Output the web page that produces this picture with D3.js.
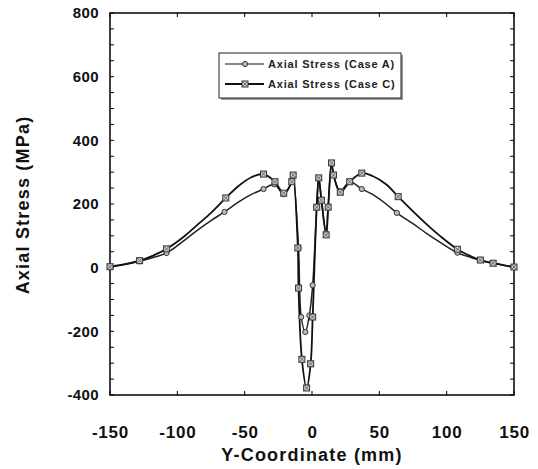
<!DOCTYPE html>
<html><head><meta charset="utf-8">
<script src="https://cdn.jsdelivr.net/npm/d3@7"></script>
<style>body{margin:0;background:#fff}svg{display:block;font-family:"Liberation Sans",Arial,sans-serif}</style>
</head><body><svg id="c" width="538" height="469"></svg>
<script>
const xTicks = [-150,-100,-50,0,50,100,150];
const yTicks = [-400,-200,0,200,400,600,800];
const seriesNames = ["Axial Stress (Case A)","Axial Stress (Case C)"];
// Case A: x (mm), stress (MPa), marker flag
const xA = [-150,-140,-128,-118,-108,-95,-85,-75,-65,-55,-45,-36,-28,-21,-15,-14,-10,-8,-5,-2,0.5,3.5,5,7,10.5,12,14.5,16,21,28,37,45,55,63,75,85,95,108,118,125,134.5,150];
const yA = [3,9,20,32,46,85,118,148,175,205,230,247,262,231,270,291,62,-155,-202,-150,-55,190,282,212,108,190,329,291,240,270,247,230,200,172,138,108,80,47,32,24,14,2];
const mA = [1,0,1,0,1,0,0,0,1,0,0,1,1,1,1,1,1,1,1,1,1,1,1,1,1,1,1,1,1,1,1,0,0,1,0,0,0,1,0,1,1,1];
// Case C
const xC = [-150,-140,-128,-118,-108,-95,-85,-75,-64,-55,-45,-36,-27.5,-21,-15,-14,-10.5,-10,-7.5,-4,-1,0.5,3.5,5,7,10.5,12,14.5,16,21,28,37,45,55,64,75,85,95,108,118,125,134.5,150];
const yC = [3,10,22,38,59,98,135,172,219,255,284,294,270,234,270,291,62,-64,-288,-378,-302,-155,190,282,212,103,190,329,291,237,270,297,288,262,223,177,137,100,58,36,24,14,2];
const mC = [1,0,1,0,1,0,0,0,1,0,0,1,1,1,1,1,1,1,1,1,1,1,1,1,1,1,1,1,1,1,1,1,0,0,1,0,0,0,1,0,1,1,1];

const svg = d3.select("#c");
const L=110,R=514,T=13,B=395;
const x = d3.scaleLinear().domain([-150,150]).range([L,R]);
const y = d3.scaleLinear().domain([-400,800]).range([B,T]);

svg.append("rect").attr("x",L).attr("y",T).attr("width",R-L).attr("height",B-T)
  .attr("fill","none").attr("stroke","#000").attr("stroke-width",1.5);

const yMinor = d3.range(-400,801,50);
const xMinor = d3.range(-150,151,50);
yMinor.forEach(v=>{
  svg.append("line").attr("x1",L).attr("x2",L+4).attr("y1",y(v)).attr("y2",y(v)).attr("stroke","#000");
  svg.append("line").attr("x1",R).attr("x2",R-4).attr("y1",y(v)).attr("y2",y(v)).attr("stroke","#000");
});
xMinor.forEach(v=>{
  svg.append("line").attr("y1",B).attr("y2",B-4).attr("x1",x(v)).attr("x2",x(v)).attr("stroke","#000");
  svg.append("line").attr("y1",T).attr("y2",T+4).attr("x1",x(v)).attr("x2",x(v)).attr("stroke","#000");
});

const fmt = d=>String(d);
const xAxis = d3.axisBottom(x).tickValues(xTicks).tickSize(0).tickPadding(0).tickFormat(fmt);
const gx = svg.append("g").attr("transform",`translate(0,${B+31})`).call(xAxis);
gx.select(".domain").remove();
gx.selectAll("text").attr("font-size",17).attr("font-weight","bold").attr("fill","#111").attr("letter-spacing",0.8).attr("font-family","'Liberation Sans',Arial,sans-serif");

const yAxis = d3.axisLeft(y).tickValues(yTicks).tickSize(0).tickPadding(0).tickFormat(fmt);
const gy = svg.append("g").attr("transform",`translate(${L-11},0)`).call(yAxis);
gy.select(".domain").remove();
gy.selectAll("text").attr("font-size",15).attr("font-weight","bold").attr("fill","#111").attr("letter-spacing",0.4).attr("font-family","'Liberation Sans',Arial,sans-serif");

svg.append("text").attr("x",(L+R)/2).attr("y",461).attr("text-anchor","middle")
  .attr("font-size",18).attr("font-weight","bold").attr("fill","#111").attr("letter-spacing",1.2).text("Y-Coordinate (mm)");
svg.append("text").attr("transform",`translate(29,205) rotate(-90)`).attr("text-anchor","middle")
  .attr("font-size",18).attr("font-weight","bold").attr("fill","#111").attr("letter-spacing",1.2).text("Axial Stress (MPa)");

const line = d3.line().x(d=>x(d[0])).y(d=>y(d[1])).curve(d3.curveCatmullRom.alpha(0.5));
const dA = xA.map((v,i)=>[v,yA[i],mA[i]]);
const dC = xC.map((v,i)=>[v,yC[i],mC[i]]);
const plot = svg.append("g");
plot.append("path").datum(dA).attr("d",line).attr("fill","none").attr("stroke","#222").attr("stroke-width",1.5);
plot.append("path").datum(dC).attr("d",line).attr("fill","none").attr("stroke","#111").attr("stroke-width",1.8);

function circ(g,cx,cy){ g.append("circle").attr("cx",cx).attr("cy",cy).attr("r",2.6).attr("fill","#bbb").attr("stroke","#333").attr("stroke-width",1); }
function sq(g,cx,cy){
  const s=3;
  g.append("rect").attr("x",cx-s).attr("y",cy-s).attr("width",2*s).attr("height",2*s).attr("fill","#ccc").attr("stroke","#333").attr("stroke-width",1);
  g.append("path").attr("d",`M${cx-s},${cy-s}L${cx+s},${cy+s}M${cx+s},${cy-s}L${cx-s},${cy+s}`).attr("stroke","#555").attr("stroke-width",0.8);
}
dA.filter(d=>d[2]).forEach(d=>circ(plot,x(d[0]),y(d[1])));
dC.filter(d=>d[2]).forEach(d=>sq(plot,x(d[0]),y(d[1])));

const lg = svg.append("g");
lg.append("rect").attr("x",221).attr("y",55).attr("width",182).attr("height",45).attr("fill","#999");
lg.append("rect").attr("x",219).attr("y",53).attr("width",182).attr("height",45).attr("fill","#fff").attr("stroke","#222").attr("stroke-width",1);
[64,84].forEach((ly,i)=>{
  lg.append("line").attr("x1",225).attr("x2",264).attr("y1",ly).attr("y2",ly).attr("stroke","#111").attr("stroke-width",i?1.8:1.2);
  if(i===0) circ(lg,245,ly); else sq(lg,245,ly);
  lg.append("text").attr("x",268).attr("y",ly+4).attr("font-size",11).attr("font-weight","bold").attr("fill","#222").attr("letter-spacing",0.8).text(seriesNames[i]);
});
</script></body></html>
